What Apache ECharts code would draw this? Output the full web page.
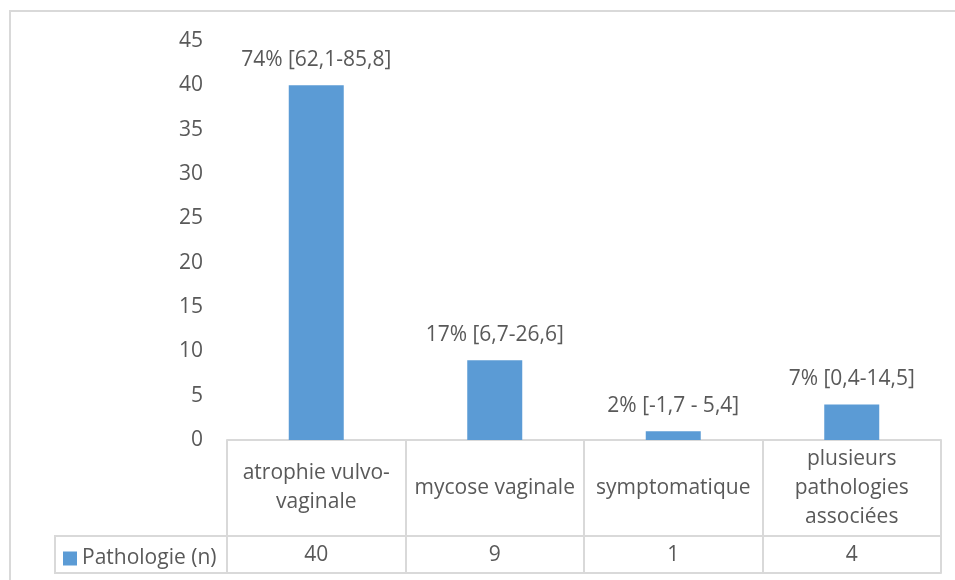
<!DOCTYPE html>
<html>
<head>
<meta charset="utf-8">
<script src="https://cdn.jsdelivr.net/npm/echarts@6/dist/echarts.min.js"></script>
<style>
  html, body { margin: 0; padding: 0; background: #fff; }
  #main { width: 955px; height: 580px; }
</style>
</head>
<body>
<div id="main"></div>
<script>
// données du graphique
var categories = ["atrophie vulvo-\nvaginale", "mycose vaginale", "symptomatique", "plusieurs\npathologies\nassociées"];
var counts = [40, 9, 1, 4];
var barLabels = ["74% [62,1-85,8]", "17% [6,7-26,6]", "2% [-1,7 - 5,4]", "7% [0,4-14,5]"];
var seriesName = "Pathologie (n)";

var textColor = "#595959";
var lineColor = "#d9d9d9";
var font = "Open Sans";
var fs = 21;

var myChart = echarts.init(document.getElementById("main"));
var option = {
  animation: false,
  textStyle: { fontFamily: font },
  grid: { left: 227, right: 14, top: 41, bottom: 140 },
  legend: {
    data: [seriesName],
    left: 58,
    top: 543,
    icon: "rect",
    itemWidth: 14,
    itemHeight: 14,
    itemGap: 6,
    textStyle: { color: textColor, fontSize: fs, fontFamily: font }
  },
  xAxis: [
    {
      type: "category",
      data: categories,
      position: "bottom",
      axisLine: { show: true, lineStyle: { color: lineColor, width: 2 } },
      axisTick: { show: true, alignWithLabel: false, length: 133, lineStyle: { color: lineColor, width: 2 } },
      axisLabel: {
        color: textColor,
        fontSize: fs,
        fontFamily: font,
        lineHeight: 29,
        verticalAlign: "middle",
        margin: 48,
        interval: 0
      }
    },
    {
      type: "category",
      data: categories,
      position: "bottom",
      offset: 96,
      axisLine: { show: true, lineStyle: { color: lineColor, width: 2 } },
      axisTick: { show: false },
      axisLabel: {
        color: textColor,
        fontSize: fs,
        fontFamily: font,
        verticalAlign: "middle",
        margin: 19,
        interval: 0,
        formatter: function (v, i) { return String(counts[i]); }
      }
    },
    {
      type: "category",
      data: categories,
      position: "bottom",
      offset: 133,
      axisLine: { show: true, lineStyle: { color: lineColor, width: 2 } },
      axisTick: { show: false },
      axisLabel: { show: false }
    }
  ],
  yAxis: {
    type: "value",
    min: 0,
    max: 45,
    interval: 5,
    axisLine: { show: false },
    axisTick: { show: false },
    splitLine: { show: false },
    axisLabel: { color: textColor, fontSize: fs, fontFamily: font, margin: 24 }
  },
  graphic: [
    {
      type: "rect",
      shape: { x: 10, y: 11, width: 1000, height: 1000 },
      style: { fill: "none", stroke: lineColor, lineWidth: 2 },
      silent: true, z: -1
    },
    {
      type: "rect",
      shape: { x: 55, y: 536, width: 172, height: 37 },
      style: { fill: "none", stroke: lineColor, lineWidth: 2 },
      silent: true, z: -1
    }
  ],
  series: [
    {
      name: seriesName,
      type: "bar",
      data: counts,
      barWidth: 55,
      itemStyle: { color: "#5b9bd5" },
      label: {
        show: true,
        position: "top",
        distance: 15,
        color: textColor,
        fontSize: fs,
        fontFamily: font,
        formatter: function (p) { return barLabels[p.dataIndex]; }
      }
    }
  ]
};
myChart.setOption(option);
</script>
</body>
</html>
